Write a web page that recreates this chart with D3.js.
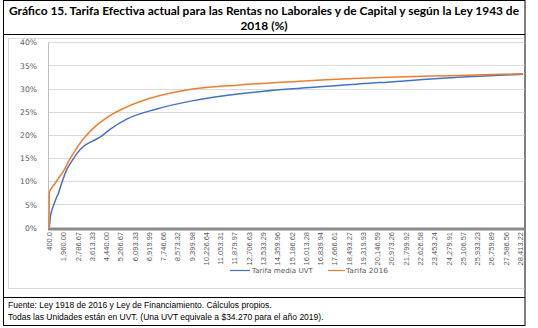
<!DOCTYPE html>
<html><head><meta charset="utf-8">
<script src="https://cdn.jsdelivr.net/npm/d3@7"></script>
<style>body{margin:0;background:#fff}svg{display:block}</style>
</head><body>
<svg id="c" width="538" height="328"></svg>
<script>
const tickLabels = ["400.0","1,960.00","2,786.67","3,613.33","4,440.00","5,266.67","6,093.33","6,919.99","7,746.66","8,573.32","9,399.98","10,226.64","11,053.31","11,879.97","12,706.63","13,533.29","14,359.96","15,186.62","16,013.28","16,839.94","17,666.61","18,493.27","19,319.93","20,146.59","20,973.26","21,799.92","22,626.58","23,453.24","24,279.91","25,106.57","25,933.23","26,759.89","27,586.56","28,413.22"];
const yTicks = [0,5,10,15,20,25,30,35,40];

const uvtMedia    = [433, 564, 695, 946, 1241, 1416, 1656, 1962, 2176, 2448, 2755, 3120, 3624, 4088, 4667, 5635, 7372, 9493, 12198, 15674, 20308, 25117, 28592];
const tarifaMedia = [0, 2.5, 3.6, 5.0, 6.6, 7.3, 8.8, 10.6, 12.6, 14.3, 16.0, 17.5, 18.6, 19.5, 21.2, 23.4, 25.6, 27.4, 28.9, 30.1, 31.3, 32.5, 33.1];

const uvt2016     = [400, 440, 619, 1056, 1493, 1780, 1963, 2200, 2448, 2850, 3317, 3800, 4279, 4850, 5438, 6984, 9110, 12198, 15674, 20308, 24363, 28592];
const tarifa2016  = [0, 7.6, 8.3, 9.5, 10.8, 11.6, 12.1, 13.8, 15.4, 17.8, 20.0, 21.8, 23.2, 24.6, 25.7, 27.9, 29.7, 30.8, 31.6, 32.4, 32.8, 33.2];

const seriesNames = ["Tarifa media UVT", "Tarifa 2016"];
const colors = ["#4472c4", "#ed7d31"];

const svg = d3.select("#c");
const tickNum = tickLabels.map(s => +s.replace(/,/g, ""));

const x = d3.scaleLinear()
  .domain([tickNum[0], tickNum[1], tickNum[tickNum.length - 1]])
  .range([49, 49 + 14.27, 49 + 33 * 14.27]);
const y = d3.scaleLinear().domain([0, 40]).range([227.5, 42.3]);

const plotL = 48, plotR = 525;

// outer boxes
svg.append("rect").attr("x", 3.5).attr("y", 0.5).attr("width", 521.5).attr("height", 325)
  .attr("fill", "none").attr("stroke", "#000").attr("stroke-width", 1);
svg.append("line").attr("x1", 3).attr("x2", 525).attr("y1", 34.5).attr("y2", 34.5).attr("stroke", "#000");
svg.append("line").attr("x1", 3).attr("x2", 525).attr("y1", 297.5).attr("y2", 297.5).attr("stroke", "#000");

// inner grey chart frame (clipped by right border)
svg.append("defs").append("clipPath").attr("id", "clip")
  .append("rect").attr("x", 0).attr("y", 0).attr("width", 524.5).attr("height", 328);
const g = svg.append("g").attr("clip-path", "url(#clip)");
g.append("rect").attr("x", 8.5).attr("y", 38.5).attr("width", 560).attr("height", 250)
  .attr("fill", "none").attr("stroke", "#d9d9d9");

// title
const title = svg.append("text").attr("font-family", "Lato, 'Open Sans', sans-serif")
  .attr("font-weight", "bold").attr("font-size", 12).attr("fill", "#000").attr("text-anchor", "middle");
title.append("tspan").attr("x", 264).attr("y", 15)
  .attr("textLength", 510).attr("lengthAdjust", "spacingAndGlyphs")
  .text("Gráfico 15. Tarifa Efectiva actual para las Rentas no Laborales y de Capital y según la Ley 1943 de");
title.append("tspan").attr("x", 264).attr("y", 30).text("2018 (%)");

// gridlines
g.selectAll("line.grid").data(yTicks.filter(d => d > 0)).join("line").attr("class", "grid")
  .attr("x1", plotL).attr("x2", plotR + 10)
  .attr("y1", d => Math.round(y(d)) + 0.5).attr("y2", d => Math.round(y(d)) + 0.5)
  .attr("stroke", "#d9d9d9").attr("stroke-width", 1);

// y axis line
g.append("line").attr("x1", plotL + 0.5).attr("x2", plotL + 0.5).attr("y1", y(40)).attr("y2", y(0))
  .attr("stroke", "#bfbfbf");

// y labels
const yAxis = d3.axisLeft(y).tickValues(yTicks).tickFormat(d => d + "%").tickSize(0).tickPadding(0);
const ya = svg.append("g").attr("transform", "translate(37,0)").call(yAxis);
ya.select(".domain").remove();
ya.selectAll("text").attr("font-family", "'DejaVu Sans', Verdana, sans-serif").attr("font-size", 7.6)
  .attr("fill", "#595959").attr("dy", "0.35em");

// lines
const line = d3.line().x(d => x(d[0])).y(d => y(d[1])).curve(d3.curveMonotoneX);
const dataMedia = uvtMedia.map((u, i) => [u, tarifaMedia[i]]);
const data2016 = uvt2016.map((u, i) => [u, tarifa2016[i]]);
g.append("path").datum(dataMedia).attr("d", line).attr("fill", "none")
  .attr("stroke", colors[0]).attr("stroke-width", 1.5);
g.append("path").datum(data2016).attr("d", line).attr("fill", "none")
  .attr("stroke", colors[1]).attr("stroke-width", 1.5);

// x axis thick band
g.append("rect").attr("x", plotL).attr("y", 227.5).attr("width", plotR - plotL + 10).attr("height", 3)
  .attr("fill", "#8c8c8c");

// x labels
const xAxis = d3.axisBottom(x).tickValues(tickNum).tickFormat((d, i) => tickLabels[i]).tickSize(0).tickPadding(0);
const xa = g.append("g").attr("transform", "translate(0,232)").call(xAxis);
xa.select(".domain").remove();
xa.selectAll("text")
  .attr("font-family", "'Liberation Sans Narrow', 'Arial Narrow', sans-serif").attr("font-size", 7.5)
  .attr("fill", "#595959").attr("text-anchor", "end")
  .attr("transform", "rotate(-90)").attr("x", 0).attr("y", 0).attr("dx", 0).attr("dy", "0.33em");

// legend
const legend = [
  {name: seriesNames[0], color: colors[0], x1: 230, x2: 250, tx: 252, tl: 61},
  {name: seriesNames[1], color: colors[1], x1: 328, x2: 345, tx: 346, tl: 42}
];
const lg = svg.append("g");
legend.forEach(l => {
  lg.append("line").attr("x1", l.x1).attr("x2", l.x2).attr("y1", 270.5).attr("y2", 270.5)
    .attr("stroke", l.color).attr("stroke-width", 1.2);
  lg.append("text").attr("x", l.tx).attr("y", 270.5).attr("dy", "0.35em")
    .attr("font-family", "'DejaVu Sans', Verdana, sans-serif").attr("font-size", 7)
    .attr("fill", "#595959").attr("textLength", l.tl).attr("lengthAdjust", "spacingAndGlyphs")
    .text(l.name);
});

// footnotes
const foot = svg.append("text").attr("font-family", "'Liberation Sans', Arial, sans-serif")
  .attr("font-size", 8.5).attr("fill", "#000");
foot.append("tspan").attr("x", 8).attr("y", 308).text("Fuente: Ley 1918 de 2016 y Ley de Financiamiento. Cálculos propios.");
foot.append("tspan").attr("x", 8).attr("y", 320).text("Todas las Unidades están en UVT. (Una UVT equivale a $34.270 para el año 2019).");
</script>
</body></html>
